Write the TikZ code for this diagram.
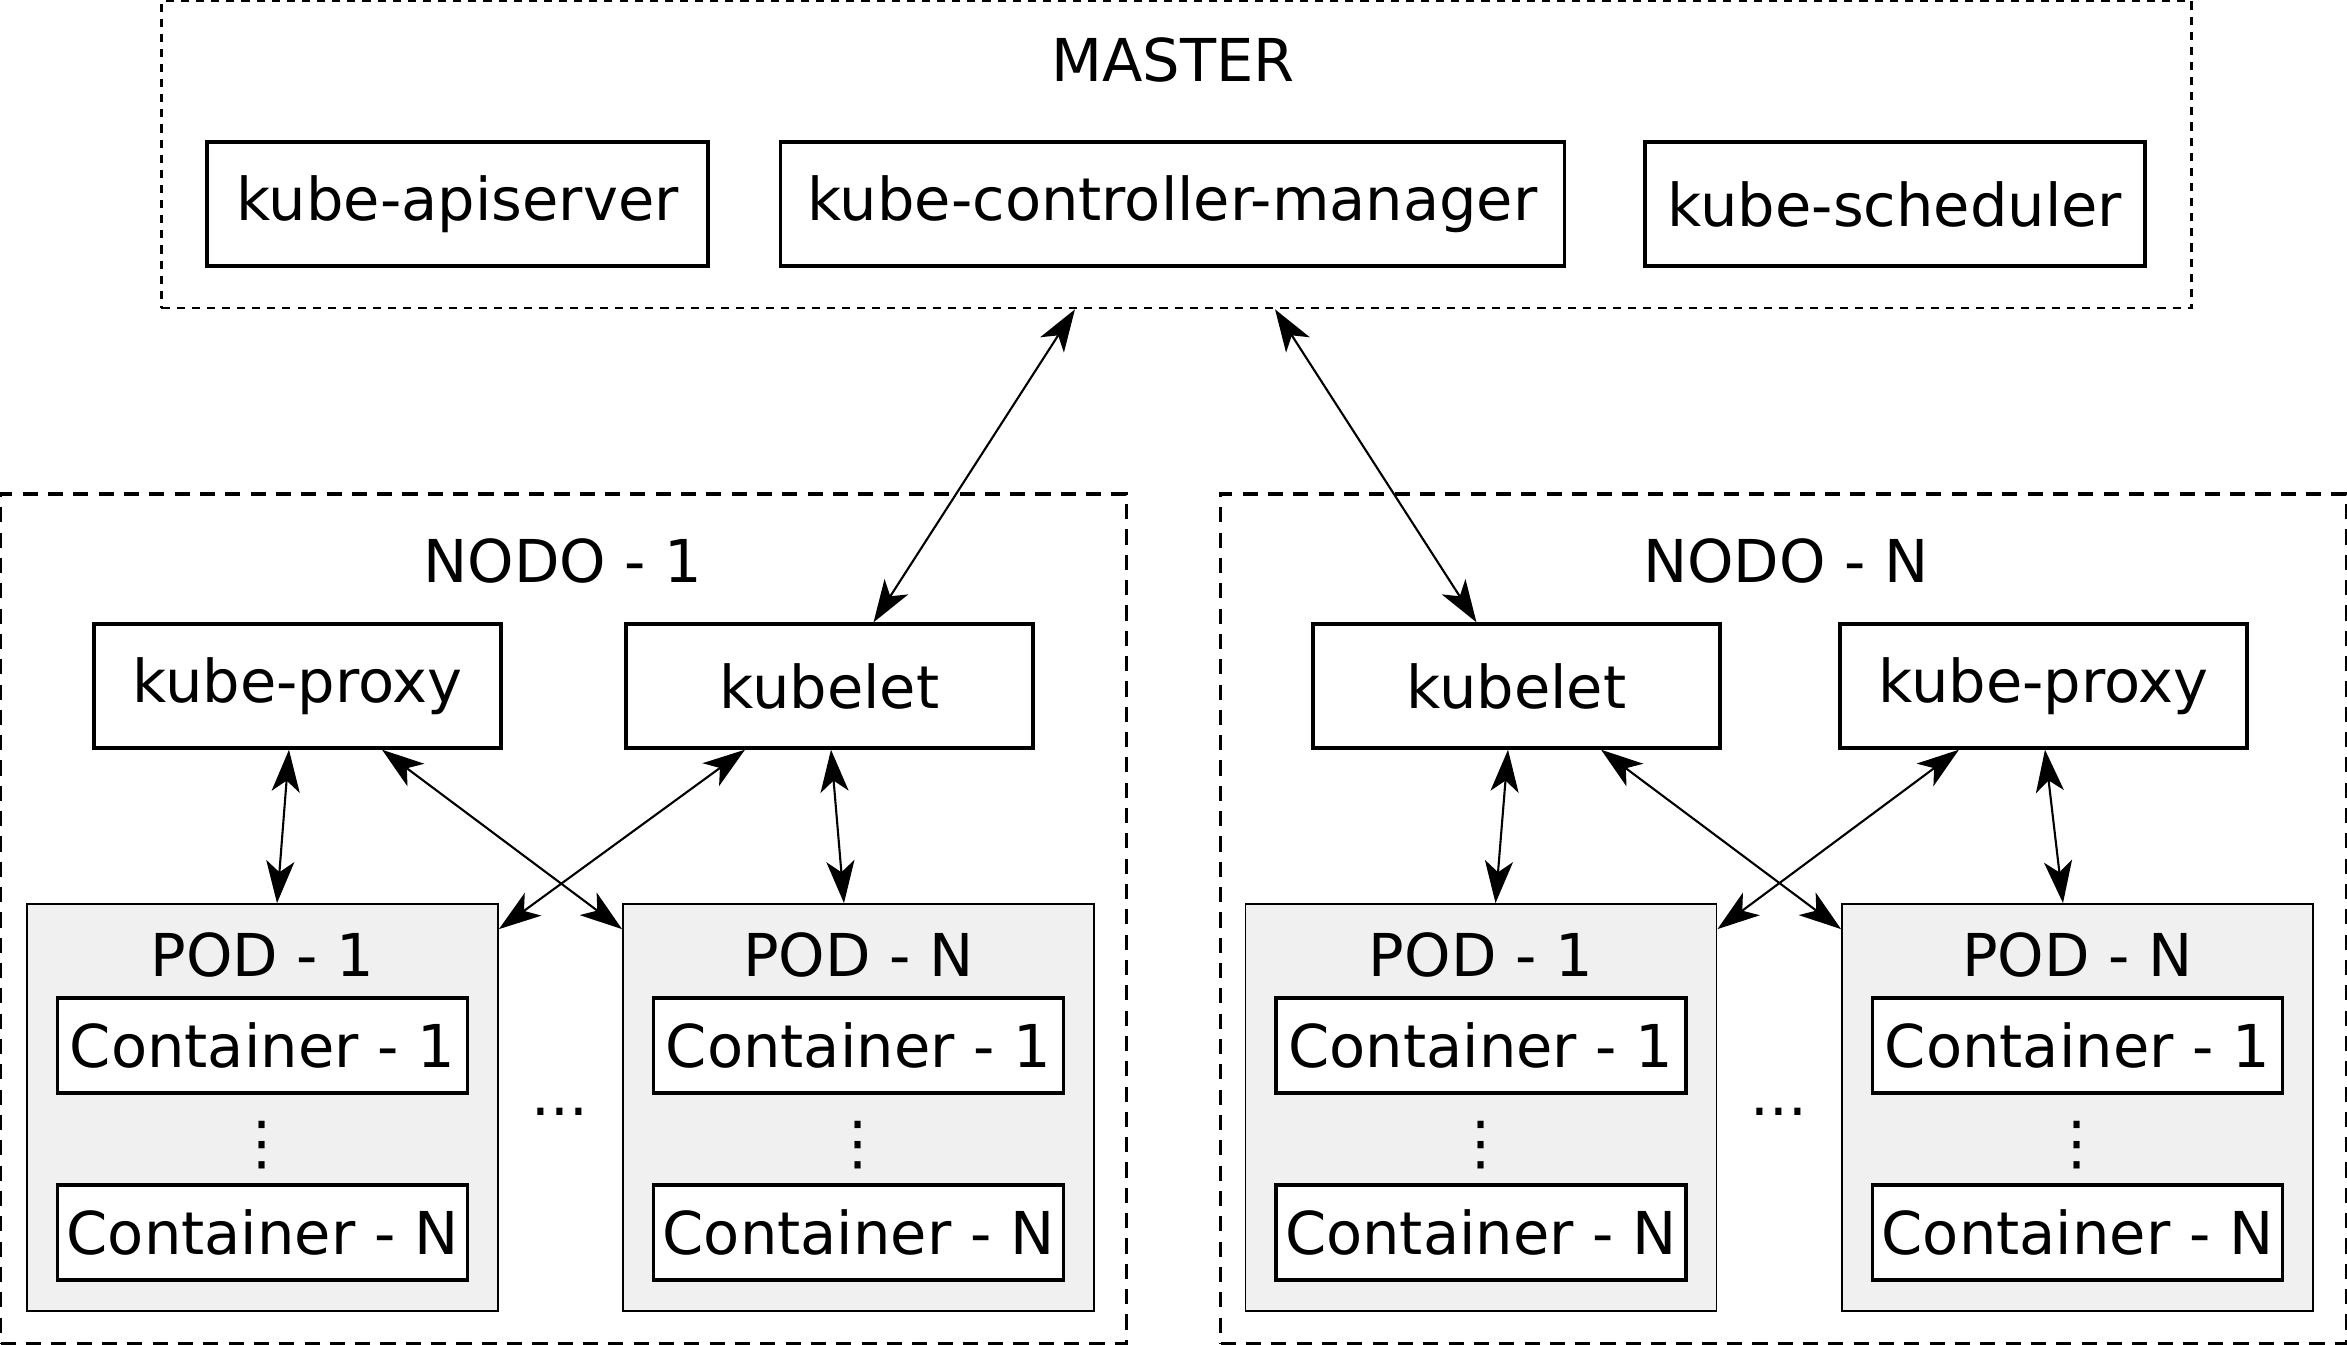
\documentclass[tikz,border=0pt]{standalone}
\usepackage{fontspec}
\setmainfont{DejaVu Sans}
\usetikzlibrary{arrows.meta, calc}

\tikzset{
  comp/.style={draw, line width=0.95pt, minimum width=4.07cm, minimum height=1.24cm, inner sep=0pt},
  cont/.style={draw, line width=0.95pt, fill=white, minimum width=4.1cm, minimum height=0.95cm, inner sep=0pt},
  pod/.style={draw, line width=0.45pt, fill=gray!12, minimum width=4.71cm, minimum height=4.07cm, inner sep=0pt},
  grp/.style={draw, line width=1pt, dash pattern=on 4.3pt off 2.9pt, minimum width=11.25cm, minimum height=8.49cm, inner sep=0pt},
  link/.style={>={Stealth[length=12pt,width=8pt,inset=3.2pt]}, <->, line width=0.6pt},
}

\begin{document}
\begin{tikzpicture}[x=0.01cm, y=-0.01cm, font=\fontsize{16.8}{20}\selectfont]
\useasboundingbox (0,0) rectangle (2347,1344);

% Master
\node[draw, line width=0.7pt, dash pattern=on 2.3pt off 2pt, minimum width=20.29cm, minimum height=3.07cm, inner sep=0pt] (master) at (1176.5,154.5) {};
\node (masterlbl) at (1173,60) {MASTER};
\node[comp, minimum width=5.01cm] (api) at (457.5,204) {kube-apiserver};
\node[comp, minimum width=7.83cm] (ctrl) at (1172.5,204) {kube-controller-manager};
\node[comp, minimum width=5.0cm] (sched) at (1895,204) {kube-scheduler};

% Nodes
\node[grp] (node1) at (563.5,918.5) {};
\node[grp] (nodeN) at (1783.5,918.5) {};
\node (node1lbl) at (563,561) {NODO - 1};
\node (nodeNlbl) at (1786,561) {NODO - N};

\node[comp] (kp1) at (297.5,686) {kube-proxy};
\node[comp] (kl1) at (829.5,686) {kubelet};
\node[comp] (klN) at (1516.5,686) {kubelet};
\node[comp] (kpN) at (2043.5,686) {kube-proxy};

% Pods
\foreach \i/\x/\n in {a/262.5/1, b/858.5/N, c/1481/1, d/2077.5/N} {
    \node[pod] (pod-\i) at (\x,1107.5) {};
    \node (podlbl-\i) at (\x,955) {POD - \n};
    \node[cont] (c1-\i) at (\x,1045.5) {Container - 1};
    \node (vd-\i) at (\x,1145) {⋮};
    \node[cont] (cN-\i) at (\x,1232.5) {Container - N};
}
\node (dots1) at (560,1112) {...};
\node (dotsN) at (1779,1112) {...};

% Links
\draw[link] ([xshift=-1.015cm]master.south) -- ([xshift=0.44cm]kl1.north);
\draw[link] ([xshift=0.985cm]master.south) -- ([xshift=-0.4cm]klN.north);

\foreach \l/\r/\p/\q in {kp1/kl1/a/b, klN/kpN/c/d} {
    \draw[link] ([xshift=-0.085cm]\l.south) -- ([xshift=0.145cm]pod-\p.north);
    \draw[link] ([xshift=0.845cm]\l.south) -- ([yshift=-0.26cm]pod-\q.north west);
    \draw[link] ([xshift=-0.845cm]\r.south) -- ([yshift=-0.26cm]pod-\p.north east);
    \draw[link] ([xshift=0.015cm]\r.south) -- ([xshift=-0.145cm]pod-\q.north);
}

\end{tikzpicture}
\end{document}
